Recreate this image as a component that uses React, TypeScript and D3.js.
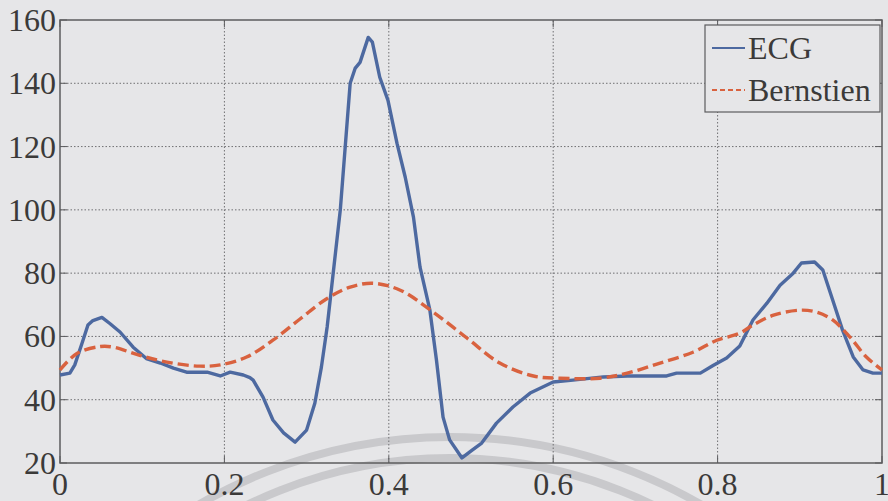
import { useRef, useEffect } from 'react';
import * as d3 from 'd3';

// ECG trace (x normalised 0..1)
const ecgX = [0, 0.012, 0.018, 0.027, 0.034, 0.04, 0.051, 0.061, 0.073, 0.089, 0.105, 0.122, 0.138, 0.154, 0.179, 0.195, 0.207, 0.223, 0.231, 0.235, 0.247, 0.259, 0.272, 0.286, 0.3, 0.31, 0.318, 0.325, 0.341, 0.347, 0.353, 0.359, 0.365, 0.375, 0.38, 0.389, 0.399, 0.41, 0.42, 0.43, 0.438, 0.45, 0.458, 0.466, 0.474, 0.489, 0.501, 0.513, 0.531, 0.551, 0.572, 0.6, 0.624, 0.661, 0.69, 0.738, 0.75, 0.779, 0.795, 0.811, 0.827, 0.843, 0.86, 0.876, 0.892, 0.902, 0.918, 0.928, 0.94, 0.952, 0.965, 0.977, 0.989, 1];
const ecgY = [47.8, 48.4, 51, 58, 63.6, 65, 66, 64, 61.4, 56.6, 53, 51.6, 50, 48.7, 48.7, 47.5, 48.7, 47.8, 47, 46.2, 40.8, 33.6, 29.5, 26.6, 30.4, 38.9, 50.3, 63, 100, 120, 140, 144.7, 146.6, 154.5, 153, 141.9, 134.6, 121, 110.3, 97.7, 81.9, 68.3, 52.5, 34.5, 27.3, 21.6, 24, 26.3, 32.6, 37.7, 42.1, 45.6, 46.2, 47.2, 47.5, 47.5, 48.4, 48.4, 50.9, 53.2, 57, 65.2, 70.5, 76.2, 80, 83.2, 83.5, 81, 71.5, 62, 53.5, 49.4, 48.4, 48.4];

// Bernstein approximation
const bernX = [0, 0.021, 0.049, 0.065, 0.097, 0.13, 0.17, 0.195, 0.227, 0.259, 0.292, 0.325, 0.353, 0.381, 0.414, 0.454, 0.495, 0.535, 0.576, 0.608, 0.657, 0.69, 0.73, 0.77, 0.799, 0.827, 0.843, 0.868, 0.9, 0.92, 0.94, 0.961, 0.981, 1];
const bernY = [49.4, 54.7, 56.8, 56.6, 54, 51.9, 50.6, 51, 53.5, 58.8, 65.5, 72, 75.6, 76.8, 74.6, 67.7, 59.5, 51.6, 47.5, 46.8, 46.8, 48.4, 51.6, 55, 58.8, 61, 63.6, 66.7, 68.3, 67.7, 65.2, 59.8, 53.5, 49.4];

const xTicks = [0, 0.2, 0.4, 0.6, 0.8, 1];
const yTicks = [20, 40, 60, 80, 100, 120, 140, 160];
const legendLabels = ['ECG', 'Bernstien'];

export default function App() {
  const svgRef = useRef(null);
  const width = 888;
  const height = 501;

  function renderChart() {
    const svg = d3.select(svgRef.current);
    svg.selectAll('*').remove();

    const m = { left: 60, right: 6, top: 20, bottom: 38 };
    const x = d3.scaleLinear().domain([0, 1]).range([m.left, width - m.right]);
    const y = d3.scaleLinear().domain([20, 160]).range([height - m.bottom, m.top]);
    const font = '"Liberation Serif", "Times New Roman", Times, Tinos, "Noto Serif", "DejaVu Serif", serif';
    const ink = '#3b3a39';

    svg.append('rect').attr('width', width).attr('height', height).attr('fill', '#e6e6e8');

    // faint arcs showing through the page
    const arcs = [
      { cx: 450, cy: 937, r: 500 },
      { cx: 450, cy: 920, r: 462 },
    ];
    arcs.forEach((a) => {
      svg.append('circle')
        .attr('cx', a.cx).attr('cy', a.cy).attr('r', a.r)
        .attr('fill', 'none').attr('stroke', '#c9c9cc').attr('stroke-width', 8);
    });

    // grid
    svg.append('g').selectAll('line').data(yTicks.slice(1, -1)).join('line')
      .attr('x1', x(0)).attr('x2', x(1))
      .attr('y1', (d) => y(d)).attr('y2', (d) => y(d))
      .attr('stroke', '#6f6f72').attr('stroke-width', 1).attr('stroke-dasharray', '1.5,2');
    svg.append('g').selectAll('line').data(xTicks.slice(1, -1)).join('line')
      .attr('y1', y(20)).attr('y2', y(160))
      .attr('x1', (d) => x(d)).attr('x2', (d) => x(d))
      .attr('stroke', '#6f6f72').attr('stroke-width', 1).attr('stroke-dasharray', '1.5,2');

    // box
    svg.append('rect')
      .attr('x', x(0)).attr('y', y(160))
      .attr('width', x(1) - x(0)).attr('height', y(20) - y(160))
      .attr('fill', 'none').attr('stroke', '#5c5c5e').attr('stroke-width', 1.5);

    // inward ticks
    const tk = 7;
    xTicks.forEach((t) => {
      svg.append('line').attr('x1', x(t)).attr('x2', x(t)).attr('y1', y(20)).attr('y2', y(20) - tk).attr('stroke', '#5c5c5e');
      svg.append('line').attr('x1', x(t)).attr('x2', x(t)).attr('y1', y(160)).attr('y2', y(160) + tk).attr('stroke', '#5c5c5e');
    });
    yTicks.forEach((t) => {
      svg.append('line').attr('y1', y(t)).attr('y2', y(t)).attr('x1', x(0)).attr('x2', x(0) + tk).attr('stroke', '#5c5c5e');
      svg.append('line').attr('y1', y(t)).attr('y2', y(t)).attr('x1', x(1)).attr('x2', x(1) - tk).attr('stroke', '#5c5c5e');
    });

    const labels = svg.append('g').attr('font-family', font).attr('font-size', 32).attr('fill', ink);

    // tick labels
    labels.append('g').selectAll('text').data(yTicks).join('text')
      .attr('x', x(0) - 4).attr('y', (d) => y(d) + 11)
      .attr('text-anchor', 'end')
      .text((d) => d);
    labels.append('g').selectAll('text').data(xTicks).join('text')
      .attr('x', (d) => x(d)).attr('y', 495)
      .attr('text-anchor', 'middle')
      .text((d) => d);

    // series
    const ecg = ecgX.map((v, i) => [v, ecgY[i]]);
    const bern = bernX.map((v, i) => [v, bernY[i]]);
    const line = d3.line().x((d) => x(d[0])).y((d) => y(d[1]));

    svg.append('path')
      .attr('d', line.curve(d3.curveLinear)(ecg))
      .attr('fill', 'none').attr('stroke', '#4d69a0').attr('stroke-width', 3.4)
      .attr('stroke-linejoin', 'round');
    svg.append('path')
      .attr('d', line.curve(d3.curveCatmullRom)(bern))
      .attr('fill', 'none').attr('stroke', '#d9623f').attr('stroke-width', 3.4)
      .attr('stroke-dasharray', '11,5');

    // legend
    const lg = svg.append('g');
    lg.append('rect')
      .attr('x', 705).attr('y', 25).attr('width', 175).attr('height', 87)
      .attr('fill', '#e6e6e8').attr('stroke', '#5c5c5e').attr('stroke-width', 1.2);
    const colors = ['#4d69a0', '#d9623f'];
    const dashes = [null, '5,3'];
    legendLabels.forEach((lab, i) => {
      const cy = 48 + i * 42;
      lg.append('line')
        .attr('x1', 712).attr('x2', 745).attr('y1', cy).attr('y2', cy)
        .attr('stroke', colors[i]).attr('stroke-width', 2.2)
        .attr('stroke-dasharray', dashes[i]);
      lg.append('text')
        .attr('x', 748).attr('y', cy + 11)
        .attr('font-family', font).attr('font-size', 32).attr('fill', ink)
        .text(lab);
    });
  }

  useEffect(() => {
    renderChart();
  }, []);

  return (
    <div>
      <svg ref={svgRef} width={width} height={height} style={{ position: 'absolute', left: 0, top: 0 }} />
    </div>
  );
}
